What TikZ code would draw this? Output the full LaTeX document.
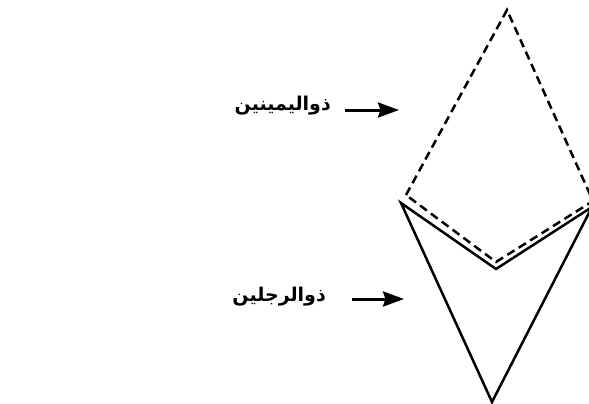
\documentclass[tikz,border=0pt]{standalone}
\usepackage{fontspec}
\usetikzlibrary{arrows.meta}
\newfontfamily\arabicfont[Script=Arabic]{DejaVu Sans}
\TeXXeTstate=1
\tikzset{
  kiteline/.style={line width=2.5pt, line join=miter},
  dashline/.style={kiteline, dash pattern=on 8.5pt off 5pt},
  pointer/.style={line width=3pt, -{Stealth[length=21pt,width=15pt,inset=2.5pt]}},
  arlabel/.style={font=\arabicfont\bfseries\fontsize{19}{21}\selectfont, anchor=east, inner sep=0pt}
}
\begin{document}
\begin{tikzpicture}[x=1pt,y=-1pt]
\useasboundingbox (0,0) rectangle (589,404);
\clip (0,0) rectangle (589,404);

% upper (dashed) figure
\coordinate (ua) at (507,10);
\coordinate (ul) at (406,195);
\coordinate (ub) at (496,262);
\coordinate (ur) at (593,201);
\draw[dashline] (ul) -- (ua) -- (ur) -- (ub) -- cycle;

% lower solid figure
\coordinate (ll) at (401,203);
\coordinate (lv) at (496,269);
\coordinate (lr) at (592,207);
\coordinate (lb) at (492,402);
\draw[kiteline] (ll) -- (lv) -- (lr) -- (lb) -- cycle;

% labels with pointers
\node[arlabel] (top) at (331,106) {\beginR ذواليمينين\endR};
\coordinate (toptip) at (399,110);
\draw[pointer] ([xshift=14pt]top.east |- toptip) -- (toptip);

\node[arlabel] (bot) at (326,297) {\beginR ذوالرجلين\endR};
\coordinate (bottip) at (404,299);
\draw[pointer] ([xshift=26pt]bot.east |- bottip) -- (bottip);
\end{tikzpicture}
\end{document}
